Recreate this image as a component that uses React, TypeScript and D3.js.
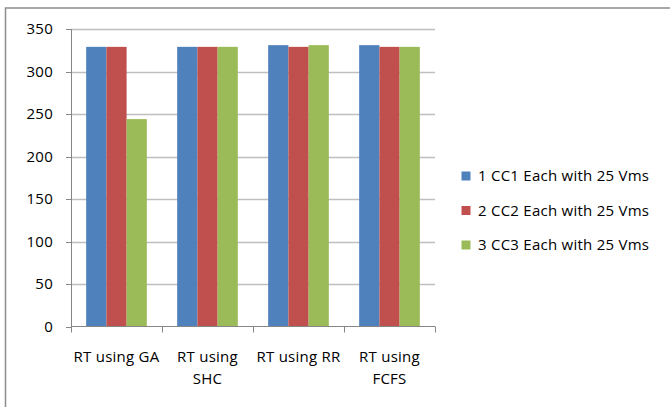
import React, { useEffect, useRef } from "react";
import * as d3 from "d3";

const categories = ["RT using GA", "RT using SHC", "RT using RR", "RT using FCFS"];
const seriesNames = ["1 CC1 Each with 25 Vms", "2 CC2 Each with 25 Vms", "3 CC3 Each with 25 Vms"];
const cc1 = [329, 329, 331, 331];
const cc2 = [329, 329, 329, 329];
const cc3 = [244, 329, 331, 329];
const yTicks = [0, 50, 100, 150, 200, 250, 300, 350];
const colors = ["#4F81BD", "#C0504D", "#9BBB59"];

const W = 670, H = 407;
const FONT = "'Open Sans', sans-serif";
const FS = 15;
const LS = 0.25;

export default function App() {
  const ref = useRef<SVGSVGElement>(null);
  useEffect(() => {
    const svg = d3.select(ref.current);
    svg.selectAll("*").remove();
    const series = [cc1, cc2, cc3];
    const left = 71, right = 435, top = 29, bottom = 326.5;

    // outer border
    svg.append("rect").attr("x", 5.5).attr("y", 8).attr("width", W + 10).attr("height", H + 10)
      .attr("fill", "white").attr("stroke", "#8c8c8c").attr("stroke-width", 1.5);

    const x = d3.scaleBand<string>().domain(categories).range([left, right]).paddingInner(0);
    const y = d3.scaleLinear().domain([0, 350]).range([bottom, top]);
    const barW = x.bandwidth() / 4.5;

    // gridlines
    svg.append("g").selectAll("line").data(yTicks.filter(t => t > 0)).join("line")
      .attr("x1", left).attr("x2", right)
      .attr("y1", d => Math.round(y(d)) + 0.5).attr("y2", d => Math.round(y(d)) + 0.5)
      .attr("stroke", "#bfbfbf").attr("stroke-width", 1.3);

    // bars
    categories.forEach((c, ci) => {
      series.forEach((s, si) => {
        const x0 = (x(c) as number) + barW * 0.75 + si * barW;
        svg.append("rect").attr("x", x0).attr("y", y(s[ci]))
          .attr("width", barW).attr("height", y(0) - y(s[ci]))
          .attr("fill", colors[si]);
      });
    });

    // y axis
    svg.append("line").attr("x1", left + 0.5).attr("x2", left + 0.5).attr("y1", top).attr("y2", bottom)
      .attr("stroke", "#868686").attr("stroke-width", 1);
    svg.append("g").selectAll("line").data(yTicks).join("line")
      .attr("x1", left - 5).attr("x2", left)
      .attr("y1", d => Math.round(y(d)) + 0.5).attr("y2", d => Math.round(y(d)) + 0.5)
      .attr("stroke", "#868686");
    svg.append("g").selectAll("text").data(yTicks).join("text")
      .attr("x", 53).attr("y", d => y(d)).attr("dy", "0.35em")
      .attr("text-anchor", "end").attr("font-family", FONT).attr("font-size", FS)
      .attr("letter-spacing", LS).attr("fill", "#000").text(d => String(d));

    // x axis
    svg.append("line").attr("x1", left).attr("x2", right).attr("y1", bottom).attr("y2", bottom)
      .attr("stroke", "#868686").attr("stroke-width", 1);
    const bounds = [...categories.map(c => x(c) as number), right];
    svg.append("g").selectAll("line").data(bounds).join("line")
      .attr("x1", d => Math.round(d) + 0.5).attr("x2", d => Math.round(d) + 0.5)
      .attr("y1", bottom).attr("y2", bottom + 6)
      .attr("stroke", "#868686");

    // x labels with wrapping
    const maxW = 92;
    categories.forEach(c => {
      const cx = (x(c) as number) + x.bandwidth() / 2;
      const t = svg.append("text").attr("x", cx).attr("y", 362)
        .attr("text-anchor", "middle").attr("font-family", FONT).attr("font-size", FS)
        .attr("letter-spacing", LS).attr("fill", "#000");
      const words = c.split(" ");
      let line: string[] = [];
      let tspan = t.append("tspan").attr("x", cx).attr("dy", 0);
      words.forEach(w => {
        line.push(w);
        tspan.text(line.join(" "));
        if ((tspan.node() as SVGTSpanElement).getComputedTextLength() > maxW && line.length > 1) {
          line.pop();
          tspan.text(line.join(" "));
          line = [w];
          tspan = t.append("tspan").attr("x", cx).attr("dy", 22).text(w);
        }
      });
    });

    // legend
    seriesNames.forEach((n, i) => {
      const ly = 176 + i * 34.5;
      svg.append("rect").attr("x", 461.5).attr("y", ly - 4.5).attr("width", 9).attr("height", 9)
        .attr("fill", colors[i]);
      svg.append("text").attr("x", 478).attr("y", ly).attr("dy", "0.35em")
        .attr("font-family", FONT).attr("font-size", FS).attr("letter-spacing", LS)
        .attr("fill", "#000").text(n);
    });
  }, []);
  return (
    <svg ref={ref} width={W} height={H} style={{ position: "absolute", left: 0, top: 0 }} />
  );
}
